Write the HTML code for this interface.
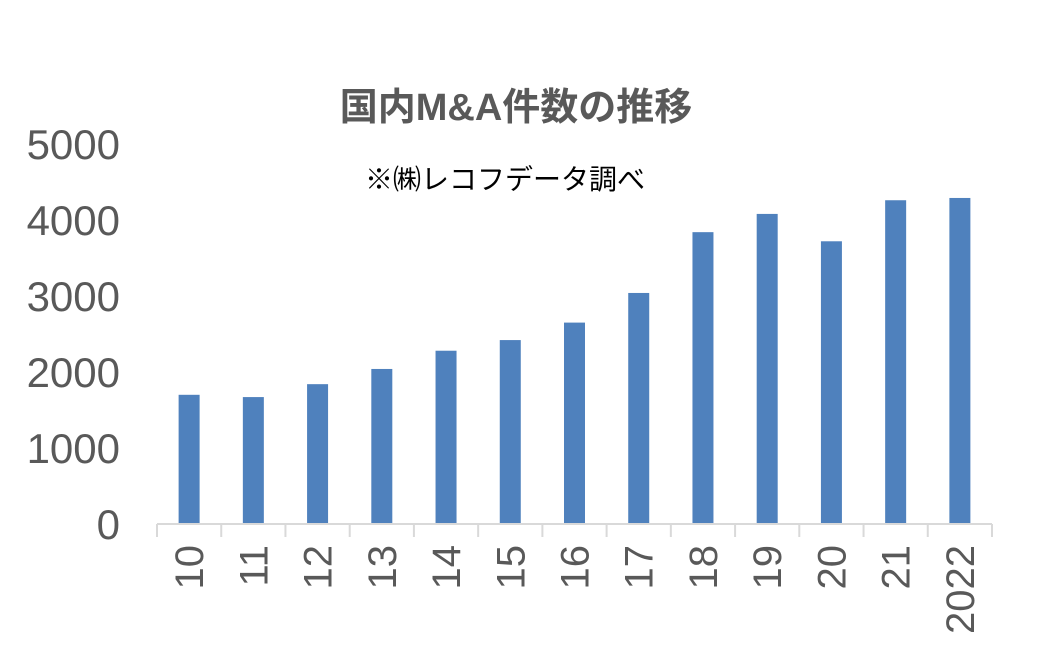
<!DOCTYPE html>
<html><head><meta charset="utf-8"><style>
body{margin:0;background:#fff;}
svg{display:block;}
</style></head><body>
<svg width="1044" height="671" font-family="'Liberation Sans','Noto Sans CJK JP',sans-serif">
<text x="516" y="120" text-anchor="middle" font-size="38" font-weight="bold" fill="#595959">国内M&amp;A件数の推移</text>
<text x="505" y="189" text-anchor="middle" font-size="28" fill="#000">※㈱レコフデータ調べ</text>
<g id="bars"></g>
<g id="axes"></g>
</svg>
<script>
const categories=["10","11","12","13","14","15","16","17","18","19","20","21","2022"];
const values=[1700,1670,1840,2040,2280,2420,2650,3040,3840,4080,3720,4260,4290];
const yTicks=[0,1000,2000,3000,4000,5000];
const x0=157,x1=992,y0=524,yTop=144,yMax=5000;
const slot=(x1-x0)/categories.length;
const ys=v=>y0-(v/yMax)*(y0-yTop);
const xs=i=>x0+slot*(i+0.5);
const NS="http://www.w3.org/2000/svg";
const bars=document.getElementById('bars'),axes=document.getElementById('axes');
function mk(tag,attrs,parent){const e=document.createElementNS(NS,tag);for(const k in attrs)e.setAttribute(k,attrs[k]);parent.appendChild(e);return e;}
values.forEach((v,i)=>{
 const r=mk('rect',{x:xs(i)-10.5,y:ys(v),width:21,height:y0-ys(v),fill:'#4f81bd'},bars);
 
 
});
const ax=mk('line',{x1:x0,y1:y0,x2:x1,y2:y0,stroke:'#d9d9d9','stroke-width':2},axes);


for(let i=0;i<=categories.length;i++){
 const t=mk('line',{x1:x0+slot*i,y1:y0,x2:x0+slot*i,y2:y0+13,stroke:'#d9d9d9','stroke-width':2},axes);
 
 
}
categories.forEach((c,i)=>{
 const x=xs(i)+14,y=545;
 const t=mk('text',{x:x,y:y,transform:`rotate(-90 ${x} ${y})`,'text-anchor':'end','font-size':40,fill:'#595959'},axes);
 t.textContent=c;
 
 
});
yTicks.forEach(v=>{
 const t=mk('text',{x:120,y:ys(v)+15,'text-anchor':'end','font-size':42,fill:'#595959'},axes);
 t.textContent=v;
 
 
});
</script>
</body></html>
